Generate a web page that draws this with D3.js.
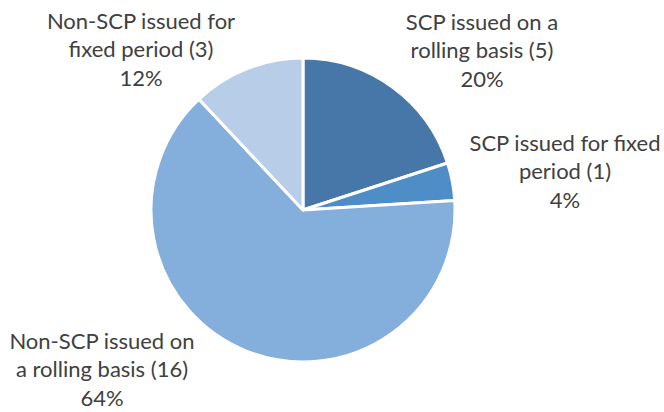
<!DOCTYPE html>
<html>
<head>
<meta charset="utf-8">
<script src="https://cdn.jsdelivr.net/npm/d3@7"></script>
<style>
  body { margin: 0; background: #fff; }
  text { font-family: Lato, "Open Sans", sans-serif; fill: #404040; }
</style>
</head>
<body>
<div id="chart"></div>
<script>
var categories = ["SCP issued on a rolling basis", "SCP issued for fixed period", "Non-SCP issued on a rolling basis", "Non-SCP issued for fixed period"];
var counts = [5, 1, 16, 3];
var percents = ["20%", "4%", "64%", "12%"];
var labelLines = [
    ["SCP issued on a", "rolling basis (5)", "20%"],
    ["SCP issued for fixed", "period (1)", "4%"],
    ["Non-SCP issued on", "a rolling basis (16)", "64%"],
    ["Non-SCP issued for", "fixed period (3)", "12%"]
];
var colors = ["#4677a8", "#4f8dc6", "#84aedb", "#b8cde8"];

var width = 664,
    height = 412,
    cx = 303,
    cy = 210,
    radius = 152;

// label centers (first line), picked to match the reference
var labelPos = [[482, 22], [565, 143], [102, 341], [141, 21]];
var lineGap = 28.5;

var svg = d3.select("#chart")
    .append("svg")
    .attr("width", width)
    .attr("height", height);

var data = categories.map(function(c, i) {
    return { name: c, count: counts[i], pct: percents[i], lines: labelLines[i], color: colors[i], pos: labelPos[i] };
});

var pie = d3.pie()
    .value(function(d) { return d.count; })
    .sort(null);

var arc = d3.arc()
    .innerRadius(0)
    .outerRadius(radius);

var g = svg.append("g")
    .attr("transform", "translate(" + cx + "," + cy + ")");

g.selectAll(".slice")
    .data(pie(data))
    .enter().append("path")
    .attr("class", "slice")
    .attr("d", arc)
    .attr("fill", function(d) { return d.data.color; })
    .attr("stroke", "#fff")
    .attr("stroke-width", 3)
    .attr("stroke-linejoin", "round");

var labels = svg.selectAll(".label")
    .data(data)
    .enter().append("text")
    .attr("class", "label")
    .attr("text-anchor", "middle")
    .style("font-size", "22px");

labels.selectAll("tspan")
    .data(function(d) {
        return d.lines.map(function(l, j) { return { t: l, x: d.pos[0], y: d.pos[1] + j * lineGap }; });
    })
    .enter().append("tspan")
    .attr("x", function(d) { return d.x; })
    .attr("y", function(d) { return d.y; })
    .attr("dy", "0.35em")
    .text(function(d) { return d.t; });
</script>
</body>
</html>
